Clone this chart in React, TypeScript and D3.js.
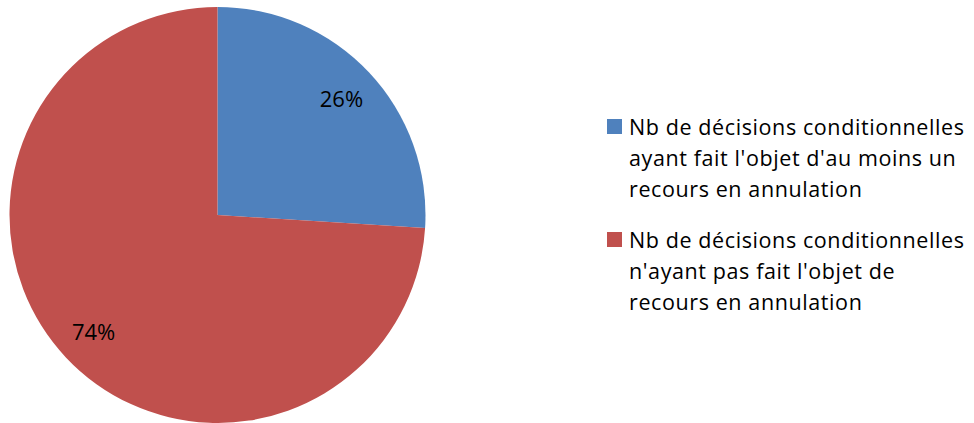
import * as d3 from "d3";

const labels = [
  ["Nb de décisions conditionnelles", "ayant fait l'objet d'au moins un", "recours en annulation"],
  ["Nb de décisions conditionnelles", "n'ayant pas fait l'objet de", "recours en annulation"],
];
const values = [26, 74];
const colors = ["#4F81BD", "#C0504D"];

const W = 974;
const H = 423;
const CX = 217.5;
const CY = 215;
const R = 208;
const FONT = "'Open Sans', sans-serif";

export default function App() {
  const pie = d3.pie<number>().sort(null).value((d) => d);
  const arcs = pie(values);
  const arc = d3.arc<d3.PieArcDatum<number>>().innerRadius(0).outerRadius(R);
  const labelArc = d3.arc<d3.PieArcDatum<number>>().innerRadius(170).outerRadius(170);

  return (
    <svg width={W} height={H} style={{ position: "absolute", left: 0, top: 0 }}>
      <g transform={`translate(${CX},${CY})`}>
        {arcs.map((a, i) => (
          <path key={i} d={arc(a) ?? ""} fill={colors[i]} />
        ))}
        {arcs.map((a, i) => {
          const [x, y] = labelArc.centroid(a);
          return (
            <text
              key={i}
              x={x}
              y={y}
              textAnchor="middle"
              dy="0.4em"
              fontFamily={FONT}
              fontSize={22}
              fill="#000"
            >
              {values[i]}%
            </text>
          );
        })}
      </g>
      {labels.map((lines, i) => {
        const top = 119 + i * 113;
        return (
          <g key={i}>
            <rect x={607} y={top} width={15} height={15} fill={colors[i]} />
            {lines.map((l, j) => (
              <text
                key={j}
                x={629}
                y={top + 15.5 + j * 31}
                fontFamily={FONT}
                fontSize={21.5}
                letterSpacing={0.6}
                fill="#000"
              >
                {l}
              </text>
            ))}
          </g>
        );
      })}
    </svg>
  );
}
